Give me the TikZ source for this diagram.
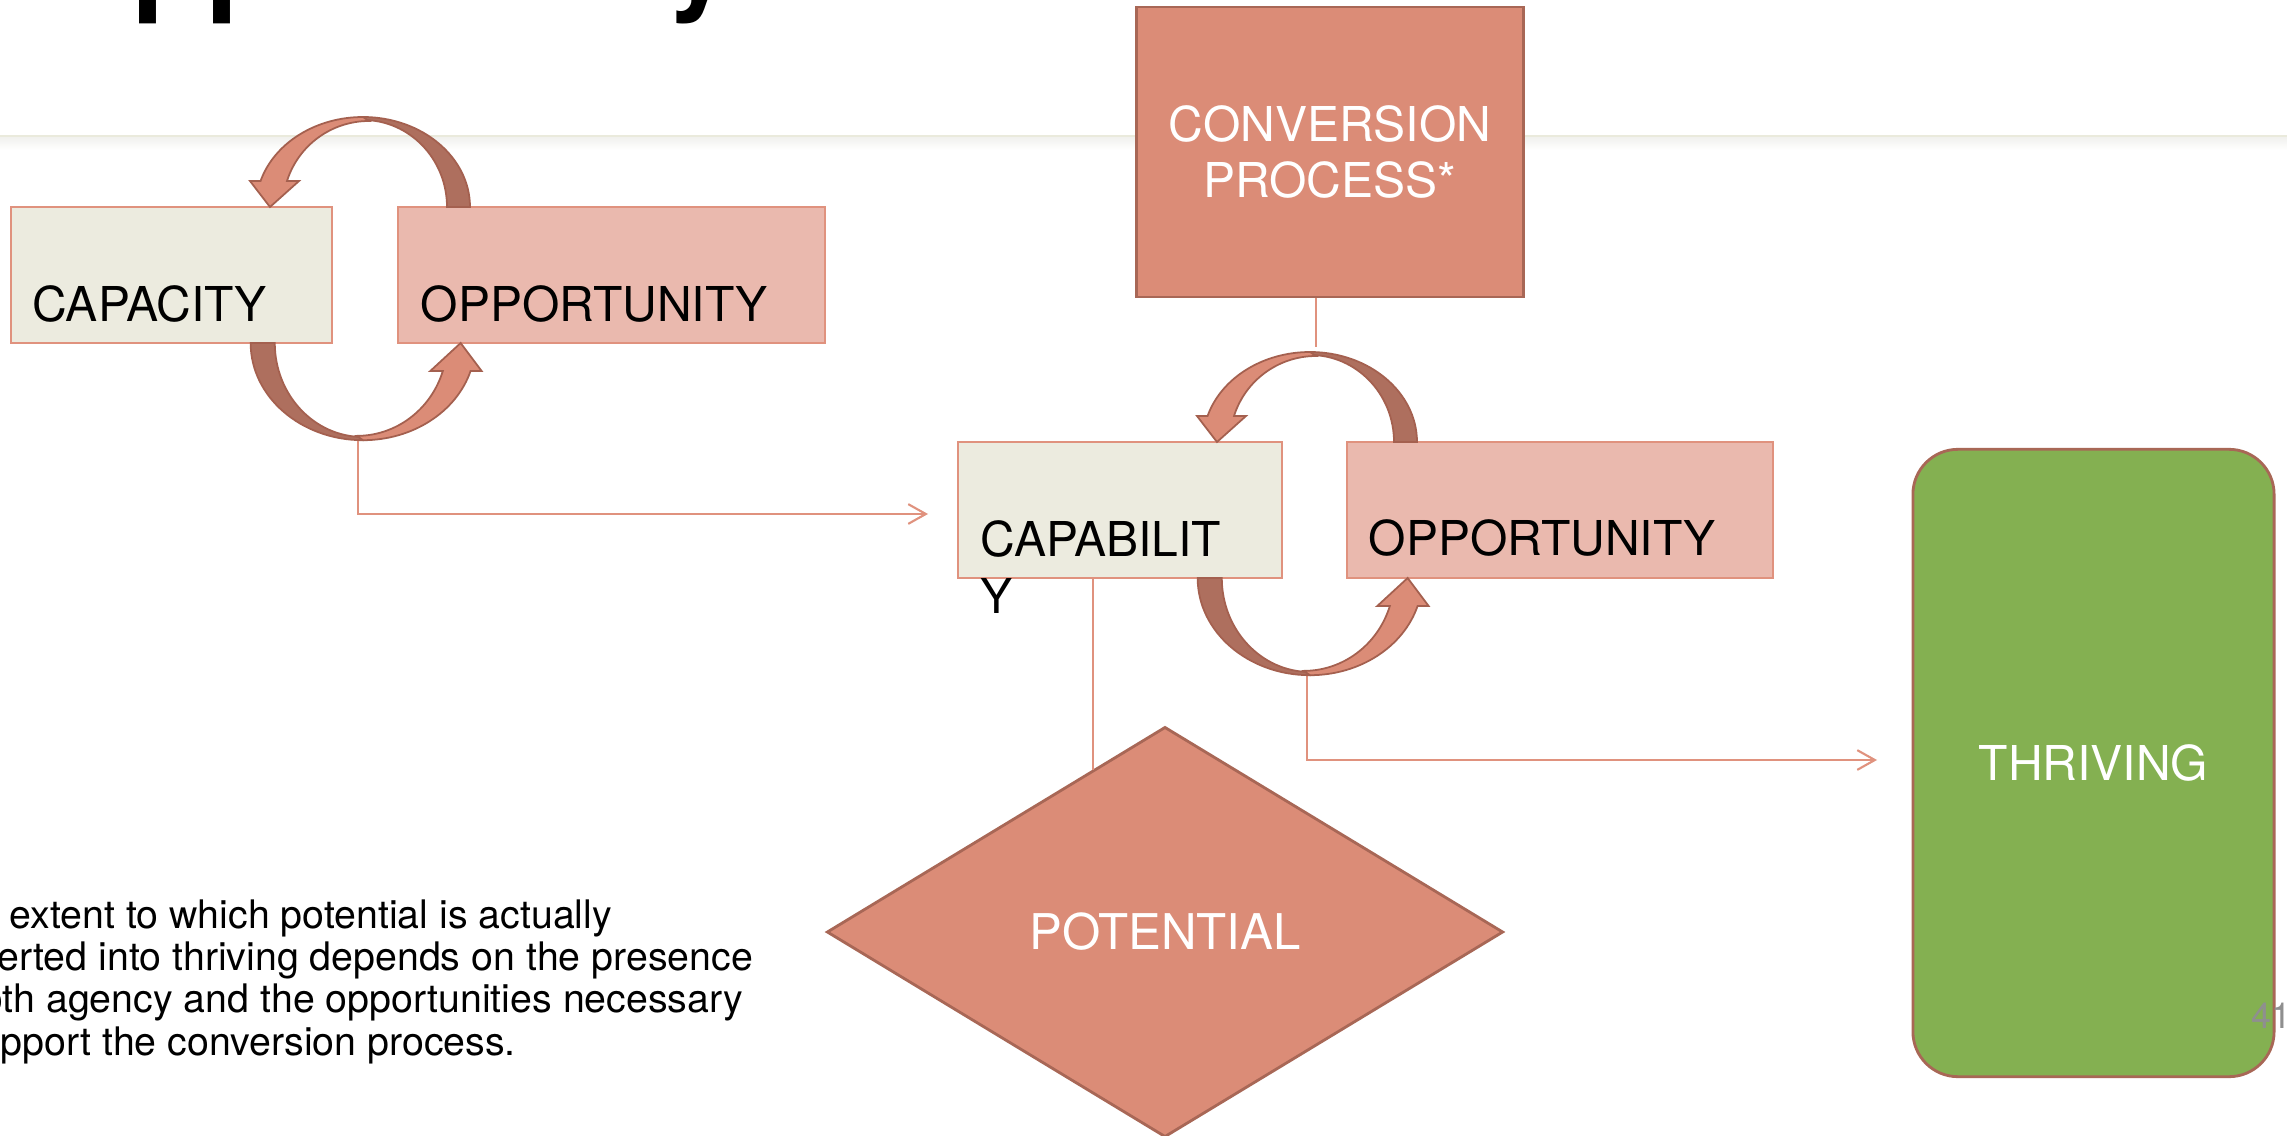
\documentclass[tikz,border=0pt]{standalone}
\usepackage{fontspec}
\setmainfont{TeX Gyre Heros}
\usetikzlibrary{arrows.meta,shapes.geometric}

\definecolor{clsalmon}{HTML}{DB8C77}
\definecolor{clringdark}{HTML}{AE6F5E}
\definecolor{clringline}{HTML}{A4604F}
\definecolor{clbrown}{HTML}{A86756}
\definecolor{cledge}{HTML}{E0927E}
\definecolor{clbeige}{HTML}{ECEBDF}
\definecolor{clpink}{HTML}{EAB9AE}
\definecolor{clgreen}{HTML}{84B051}
\definecolor{clgray}{HTML}{8F8F8F}
\definecolor{clhdr}{HTML}{EAEADC}
\definecolor{clshade}{HTML}{F1F1EE}

% one half of a ring: #1 box edge point, #2 extra transform
\newcommand{\ringhalf}[2]{%
  \begin{scope}[shift={#1},#2]
    \filldraw[ringback] (107,0) arc[start angle=0,end angle=90,x radius=107,y radius=90]
      -- (0,87) arc[start angle=90,end angle=0,x radius=84,y radius=87] -- cycle;
    \filldraw[ringfront] (0,90) arc[start angle=90,end angle=163.2,x radius=107,y radius=90]
      -- (-113,26) -- (-93,0) -- (-64,26) -- (-76,26)
      arc[start angle=162.4,end angle=90,x radius=86,y radius=86] -- cycle;
  \end{scope}}

\begin{document}
\begin{tikzpicture}[x=0.01cm,y=0.01cm,boxlt/.style={draw=cledge,fill=clbeige,line width=0.6pt,inner sep=0,minimum height=1.36cm},boxop/.style={boxlt,fill=clpink},lbl/.style={font=\lblfont,inner sep=0,anchor=base west},salm/.style={draw=clbrown,fill=clsalmon,line width=0.8pt,text=white,font=\lblfont,inner sep=0},conn/.style={draw=cledge,line width=0.6pt},tip/.style={-{Straight Barb[length=5pt,width=5.6pt]}},ringback/.style={fill=clringdark,draw=clringline,line width=0.5pt},ringfront/.style={fill=clsalmon,draw=clringline,line width=0.5pt}]
\def\lblfont{\fontsize{13.66}{16.2}\selectfont};
\def\notefont{\fontsize{11.18}{11.95}\selectfont};

\fill[white] (0,0) rectangle (2287,1135);
\useasboundingbox (0,0) rectangle (2287,1135);

% slide header
\node[font=\fontsize{34.4}{40}\selectfont\bfseries,inner sep=0,anchor=base west] (ttl) at (38,1137) {Opportunity};
\shade[top color=clshade,bottom color=white] (0,985) rectangle (2287,998);
\draw[clhdr,line width=0.6pt] (0,999) -- (2287,999);

% boxes
\node[boxlt,minimum width=3.21cm] (capac) at (171.5,860) {};
\node[boxop,minimum width=4.27cm] (opp1) at (611.5,860) {};
\node[boxlt,minimum width=3.24cm] (capab) at (1120,625) {};
\node[boxop,minimum width=4.26cm] (opp2) at (1560,625) {};
\node[lbl] (capact) at (32,814) {CAPACITY};
\node[lbl] (opp1t) at (420,814) {OPPORTUNITY};
\node[lbl] (capabt) at (980,579) {CAPABILIT};
\node[lbl] (capaby) at (980,522) {Y};
\node[lbl] (opp2t) at (1368,580) {OPPORTUNITY};

\node[salm,align=center,minimum width=3.86cm,minimum height=2.90cm] (conv) at (1330,983) {CONVERSION\\PROCESS*};
\node[salm,shape=diamond,minimum width=6.76cm,minimum height=4.10cm,font=\fontsize{14}{16}\selectfont] (pot) at (1165,203) {POTENTIAL};
\node[salm,fill=clgreen,rounded corners=0.45cm,minimum width=3.61cm,minimum height=6.27cm] (thr) at (2093.5,372) {THRIVING};

% connectors
\coordinate (lbot) at (358,695);
\coordinate (ltip) at (928,621);
\coordinate (rtop) at (1316,788);
\coordinate (rbot) at (1307,459);
\coordinate (rtip) at (1877,375);
\coordinate (pin) at (1093,365);
\draw[conn,tip] (lbot) |- (ltip);
\draw[conn] (conv.south -| rtop) -- (rtop);
\draw[conn] (capab.south -| pin) -- (pin);
\draw[conn,tip] (rbot) |- (rtip);

% rings
\ringhalf{(363,928)}{}
\ringhalf{(363,792)}{rotate=180,xscale=1.05,yscale=1.08}
\ringhalf{(1310,693)}{}
\ringhalf{(1310,557)}{rotate=180,xscale=1.05,yscale=1.08}

% note and page number
\node[font=\notefont,align=left,inner sep=0,anchor=base west] (note) at (-85,80) {*The extent to which potential is actually\\converted into thriving depends on the presence\\of both agency and the opportunities necessary\\to support the conversion process.};
\node[font=\fontsize{10.2}{12}\selectfont,text=clgray,inner sep=0,anchor=base west] (pgnum) at (2251,107) {41};
\end{tikzpicture}
\end{document}
